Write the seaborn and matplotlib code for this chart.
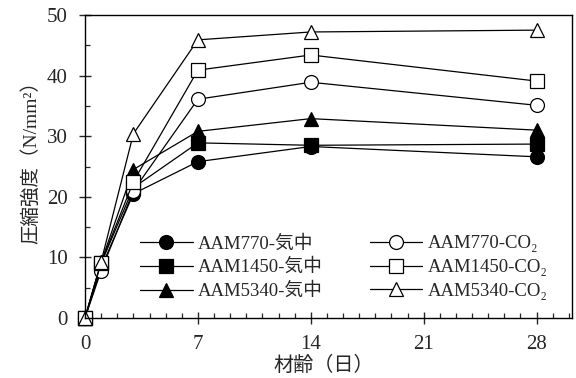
import matplotlib
matplotlib.use("Agg")
import matplotlib.pyplot as plt
import seaborn as sns
import pandas as pd
from matplotlib.ticker import MultipleLocator

days = [0, 1, 3, 7, 14, 28]
series_names = ["AAM770-気中", "AAM1450-気中", "AAM5340-気中",
                "AAM770-CO₂", "AAM1450-CO₂", "AAM5340-CO₂"]
aam770_air = [0, 8.3, 20.5, 25.8, 28.3, 26.6]
aam1450_air = [0, 9.0, 21.5, 28.9, 28.5, 28.7]
aam5340_air = [0, 9.2, 24.5, 30.8, 32.9, 31.0]
aam770_co2 = [0, 7.8, 21.0, 36.1, 38.9, 35.1]
aam1450_co2 = [0, 9.1, 22.5, 40.9, 43.4, 39.1]
aam5340_co2 = [0, 9.3, 30.4, 45.9, 47.2, 47.5]
values = [aam770_air, aam1450_air, aam5340_air, aam770_co2, aam1450_co2, aam5340_co2]

markers = ["o", "s", "^", "o", "s", "^"]
filled = [True, True, True, False, False, False]

sns.set_style("white")
plt.rcParams["font.family"] = ["Liberation Serif", "Noto Sans CJK JP", "DejaVu Sans"]

fig = plt.figure(figsize=(5.76, 3.78), dpi=100)
ax = fig.add_axes([85/576, 1-318/378, (572-85)/576, (318-15)/378])

for name, vals, m, f in zip(series_names, values, markers, filled):
    df = pd.DataFrame({"day": days, "strength": vals})
    sns.lineplot(data=df, x="day", y="strength", ax=ax, color="black",
                 linewidth=0.9, marker=m, markersize=10 if m != "^" else 10.5,
                 markerfacecolor="black" if f else "white",
                 markeredgecolor="black", markeredgewidth=0.9,
                 label=name, legend=False, clip_on=False)

ax.set_xlim(0, 30.2)
ax.set_ylim(0, 50)
ax.xaxis.set_major_locator(MultipleLocator(7))
ax.xaxis.set_minor_locator(MultipleLocator(1))
ax.yaxis.set_major_locator(MultipleLocator(10))
ax.yaxis.set_minor_locator(MultipleLocator(5))
ax.tick_params(which="major", direction="inout", length=8.6, width=1, labelsize=15,
               bottom=True, left=True)
ax.tick_params(axis="x", which="major", pad=8)
ax.tick_params(axis="y", which="major", pad=8)
ax.tick_params(which="minor", direction="in", length=3.5, width=0.9, bottom=True, left=True)
for s in ax.spines.values():
    s.set_color("black")
    s.set_linewidth(1)

ax.set_xlabel("材齢（日）", fontsize=14.5)
ax.set_ylabel("圧縮強度（N/mm²）", fontsize=14)
ax.xaxis.set_label_coords(0.49, -0.128)
ax.yaxis.set_label_coords(-0.092, 0.53)

handles, labels = ax.get_legend_handles_labels()
ax.legend(handles, labels, ncol=2, frameon=False, fontsize=13.5,
          loc="upper left", bbox_to_anchor=(140/576, 1-235/378),
          bbox_transform=fig.transFigure, borderpad=0, borderaxespad=0,
          handlelength=2.8, handletextpad=0.3, columnspacing=2.5,
          labelspacing=0.35)

fig.savefig("out.png", dpi=100)
